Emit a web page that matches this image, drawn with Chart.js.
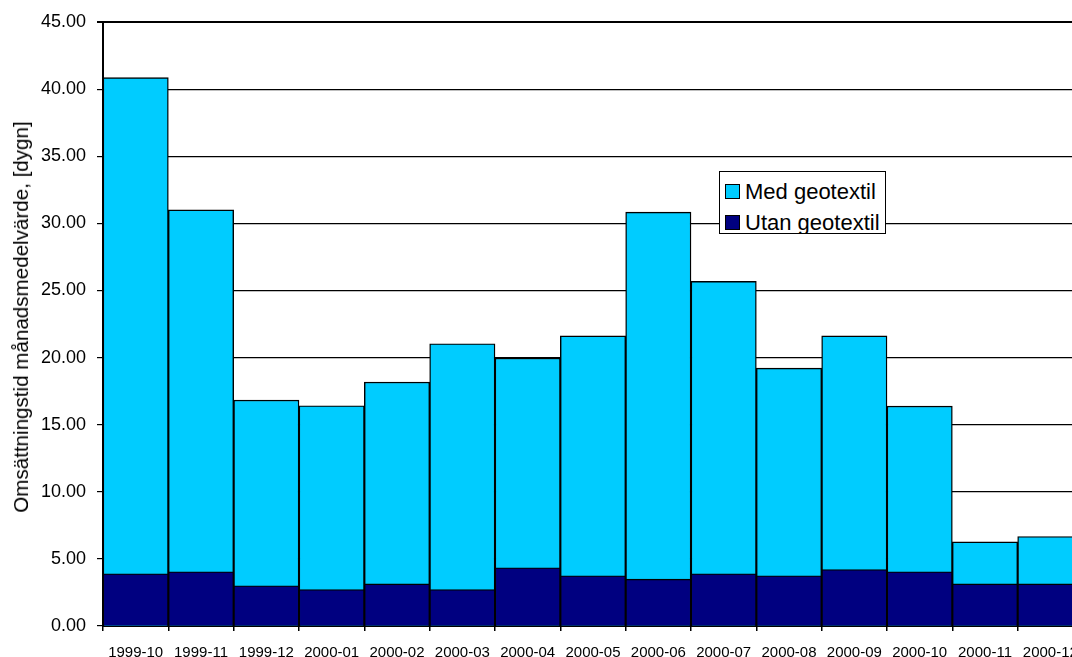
<!DOCTYPE html>
<html>
<head>
<meta charset="utf-8">
<script src="https://cdn.jsdelivr.net/npm/chart.js"></script>
<style>
  html, body { margin: 0; padding: 0; background: #fff; overflow: hidden; }
  #wrap { position: relative; width: 1084px; height: 657px; }
  #yTitle {
    position: absolute; left: 21px; top: 317px;
    transform: translate(-50%, -50%) rotate(-90deg);
    white-space: nowrap; font: 20.6px "Liberation Sans", Arial, sans-serif; color: #000;
  }
  #legend {
    position: absolute; left: 719px; top: 171px; width: 165px; height: 61px;
    border: 1px solid #000; background: #fff; overflow: hidden;
    font: 22px "Liberation Sans", Arial, sans-serif; color: #000;
  }
  #legend .row { position: absolute; left: 5px; height: 26px; white-space: nowrap; }
  #legend .sw { position: absolute; left: 0; top: 4px; width: 13px; height: 13px; border: 1px solid #000; }
  #legend .lbl { position: absolute; left: 20px; top: 0; line-height: 24px; }
</style>
</head>
<body>
<div id="wrap">
  <canvas id="myChart"></canvas>
  <div id="yTitle">Omsättningstid månadsmedelvärde, [dygn]</div>
  <div id="legend"></div>
</div>
<script>
// Setup
const months = [
  '1999-10', '1999-11', '1999-12', '2000-01', '2000-02', '2000-03', '2000-04', '2000-05',
  '2000-06', '2000-07', '2000-08', '2000-09', '2000-10', '2000-11', '2000-12'
];
const medGeotextil = [40.85, 31.0, 16.83, 16.41, 18.17, 21.03, 19.96, 21.62, 30.83, 25.67, 19.21, 21.62, 16.38, 6.27, 6.67];
const utanGeotextil = [3.89, 4.04, 3.0, 2.72, 3.14, 2.72, 4.34, 3.74, 3.49, 3.89, 3.74, 4.21, 4.04, 3.14, 3.14];
const yTicks = [0, 5, 10, 15, 20, 25, 30, 35, 40, 45];

const fontFamily = '"Liberation Sans", Arial, sans-serif';

const data = {
  labels: months,
  datasets: [{
    label: 'Med geotextil',
    data: medGeotextil,
    backgroundColor: '#00CCFF',
    borderColor: '#000',
    borderWidth: 1.4,
    grouped: false,
    order: 2
  }, {
    label: 'Utan geotextil',
    data: utanGeotextil,
    backgroundColor: '#000080',
    borderColor: '#000',
    borderWidth: 1.4,
    grouped: false,
    order: 1   // drawn over the light bars
  }]
};

// Config
const config = {
  type: 'bar',
  data: data,
  options: {
    responsive: true,
    maintainAspectRatio: false,
    animation: false,
    layout: { padding: { top: 22, right: 1, left: 0, bottom: 0 } },
    datasets: { bar: { categoryPercentage: 1, barPercentage: 1 } },
    plugins: { legend: { display: false }, tooltip: { enabled: false } },
    scales: {
      x: {
        // fixed height, and no extra side padding for the end labels
        afterFit: s => { s.height = 31; s.paddingLeft = 0; s.paddingRight = 0; },
        grid: { display: true, drawOnChartArea: false, offset: true, color: '#000', tickLength: 5, lineWidth: 1.5 },
        border: { color: '#000', width: 2 },
        ticks: { color: '#000', padding: 13, maxRotation: 0, autoSkip: false, font: { family: fontFamily, size: 15 } }
      },
      y: {
        min: 0,
        max: 45,
        afterFit: s => { s.width = 103; },
        afterBuildTicks: s => { s.ticks = yTicks.map(v => ({ value: v })); },
        grid: {
          color: '#000',
          tickLength: 6,
          lineWidth: ctx => (ctx.tick && ctx.tick.value === 45 ? 2 : 1.2)
        },
        border: { color: '#000', width: 2 },
        ticks: {
          color: '#000',
          padding: 11,
          font: { family: fontFamily, size: 18 },
          callback: v => Number(v).toFixed(2)
        }
      }
    }
  }
};

const myChart = new Chart(document.getElementById('myChart'), config);

// legend box inside the plot
const legendEl = document.getElementById('legend');
data.datasets.forEach((ds, i) => {
  const row = document.createElement('div');
  row.className = 'row';
  row.style.top = (i * 31 + 8) + 'px';
  row.innerHTML = '<span class="sw" style="background:' + ds.backgroundColor + '"></span><span class="lbl">' + ds.label + '</span>';
  legendEl.appendChild(row);
});
</script>
</body>
</html>
